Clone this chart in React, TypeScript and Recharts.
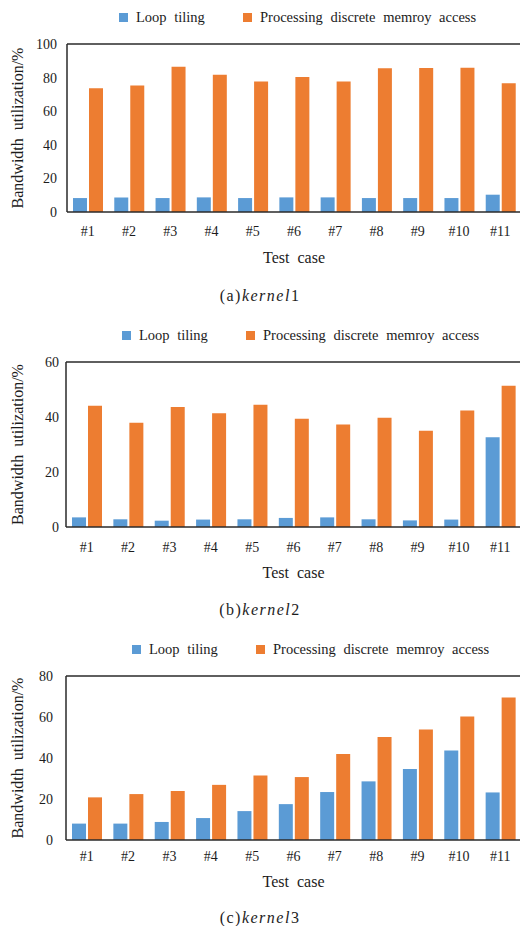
import { BarChart, Bar, XAxis, YAxis, Legend, ReferenceLine } from 'recharts'

// Test case categories shared by all three kernels
const testCases = ['#1', '#2', '#3', '#4', '#5', '#6', '#7', '#8', '#9', '#10', '#11']

// (a) kernel1
const kernel1LoopTiling = [8.3, 8.7, 8.3, 8.7, 8.3, 8.7, 8.7, 8.3, 8.3, 8.3, 10.3]
const kernel1Discrete = [73.6, 75.3, 86.5, 81.7, 77.7, 80.3, 77.7, 85.5, 85.7, 85.9, 76.7]
const kernel1Ticks = [0, 20, 40, 60, 80, 100]

// (b) kernel2
const kernel2LoopTiling = [3.5, 2.8, 2.3, 2.7, 2.8, 3.3, 3.5, 2.8, 2.4, 2.7, 32.6]
const kernel2Discrete = [44.1, 37.9, 43.6, 41.4, 44.5, 39.4, 37.3, 39.7, 35.0, 42.4, 51.4]
const kernel2Ticks = [0, 20, 40, 60]

// (c) kernel3
const kernel3LoopTiling = [8.0, 8.0, 8.8, 10.7, 14.1, 17.5, 23.4, 28.6, 34.6, 43.7, 23.2]
const kernel3Discrete = [20.8, 22.4, 23.9, 26.9, 31.5, 30.7, 41.9, 50.2, 53.9, 60.2, 69.5]
const kernel3Ticks = [0, 20, 40, 60, 80]

const FONT = '"Liberation Serif", "DejaVu Serif", serif'
const TEXT = '#1c1c1c'
const FRAME = '#2a2a2a'
const BLUE = '#5b9bd5'
const ORANGE = '#ed7d31'
const CHART_W = 526
const CHART_H = 300

interface PanelProps {
  top: number
  letter: string
  kernel: string
  loopTiling: number[]
  discrete: number[]
  ticks: number[]
  plotTop: number
  plotBottom: number
  plotLeft: number
  legendY: number
  legendLeft: number
  xTickMargin: number
  yTickMargin: number
  titleOffset: number
  captionY: number
}

function Panel(p: PanelProps) {
  const data = testCases.map((name, i) => ({
    name,
    loop: p.loopTiling[i],
    discrete: p.discrete[i],
  }))
  const yMax = p.ticks[p.ticks.length - 1]

  // legend drawn by hand so the two items sit where the figure has them
  const renderLegend = ({ payload }: any) => (
    <div style={{ position: 'relative', height: 18, fontFamily: FONT, fontSize: 14.5, color: TEXT }}>
      {(payload || []).map((entry: any, i: number) => (
        <div
          key={entry.value}
          style={{
            position: 'absolute',
            left: p.legendLeft + i * 124,
            top: 0,
            height: 18,
            display: 'flex',
            alignItems: 'center',
            whiteSpace: 'nowrap',
          }}
        >
          <span style={{ width: 9, height: 9, background: entry.color, marginRight: 8, display: 'inline-block' }} />
          <span style={{ wordSpacing: 4 }}>{entry.value}</span>
        </div>
      ))}
    </div>
  )

  return (
    <div style={{ position: 'absolute', left: 0, top: p.top }}>
      <BarChart
        width={CHART_W}
        height={CHART_H}
        data={data}
        margin={{ top: p.plotTop, right: CHART_W - 521, bottom: CHART_H - 30 - p.plotBottom, left: 0 }}
        barSize={14}
        barGap={2}
      >
        <XAxis
          dataKey="name"
          height={30}
          tickLine={false}
          axisLine={{ stroke: FRAME, strokeWidth: 1.5 }}
          tickMargin={p.xTickMargin}
          tick={{ fill: TEXT, fontSize: 14, fontFamily: FONT }}
          interval={0}
          label={{
            value: 'Test case',
            position: 'bottom',
            offset: p.titleOffset,
            style: { fill: TEXT, fontSize: 16, fontFamily: FONT, wordSpacing: 4 },
          }}
        />
        <YAxis
          width={p.plotLeft}
          domain={[0, yMax]}
          ticks={p.ticks}
          tickLine={false}
          axisLine={{ stroke: FRAME, strokeWidth: 1.5 }}
          tickMargin={p.yTickMargin}
          tick={{ fill: TEXT, fontSize: 14, fontFamily: FONT }}
          label={{
            value: 'Bandwidth utilization/%',
            angle: -90,
            position: 'insideLeft',
            offset: 17,
            style: { textAnchor: 'middle', fill: TEXT, fontSize: 16, fontFamily: FONT, wordSpacing: 4 },
          }}
        />
        {/* top frame line */}
        <ReferenceLine y={yMax} stroke={FRAME} strokeWidth={1.5} />
        <Legend
          verticalAlign="middle"
          align="center"
          content={renderLegend}
          wrapperStyle={{ top: p.legendY - 9, left: 0, width: 520 }}
        />
        <Bar dataKey="loop" name="Loop tiling" fill={BLUE} isAnimationActive={false} />
        <Bar dataKey="discrete" name="Processing discrete memroy access" fill={ORANGE} isAnimationActive={false} />
      </BarChart>
      <div
        style={{
          position: 'absolute',
          left: 0,
          width: 520,
          top: p.captionY - 9,
          textAlign: 'center',
          fontFamily: FONT,
          fontSize: 16,
          letterSpacing: 1.5,
          color: TEXT,
          lineHeight: '18px',
        }}
      >
        ({p.letter})<i>kernel</i>{p.kernel}
      </div>
    </div>
  )
}

export default function App() {
  return (
    <div
      style={{
        position: 'absolute',
        left: 0,
        top: 0,
        width: 520,
        height: 926,
        overflow: 'hidden',
        background: '#fff',
      }}
    >
      <Panel
        top={0}
        letter="a"
        kernel="1"
        loopTiling={kernel1LoopTiling}
        discrete={kernel1Discrete}
        ticks={kernel1Ticks}
        plotTop={44}
        plotBottom={212}
        plotLeft={67}
        legendY={17}
        legendLeft={119}
        xTickMargin={8}
        yTickMargin={4}
        titleOffset={10}
        captionY={296}
      />
      <Panel
        top={310}
        letter="b"
        kernel="2"
        loopTiling={kernel2LoopTiling}
        discrete={kernel2Discrete}
        ticks={kernel2Ticks}
        plotTop={52}
        plotBottom={217}
        plotLeft={66}
        legendY={25}
        legendLeft={122}
        xTickMargin={9}
        yTickMargin={1}
        titleOffset={10}
        captionY={300}
      />
      <Panel
        top={620}
        letter="c"
        kernel="3"
        loopTiling={kernel3LoopTiling}
        discrete={kernel3Discrete}
        ticks={kernel3Ticks}
        plotTop={56}
        plotBottom={220}
        plotLeft={66}
        legendY={29}
        legendLeft={132}
        xTickMargin={5}
        yTickMargin={7}
        titleOffset={6}
        captionY={298}
      />
    </div>
  )
}
